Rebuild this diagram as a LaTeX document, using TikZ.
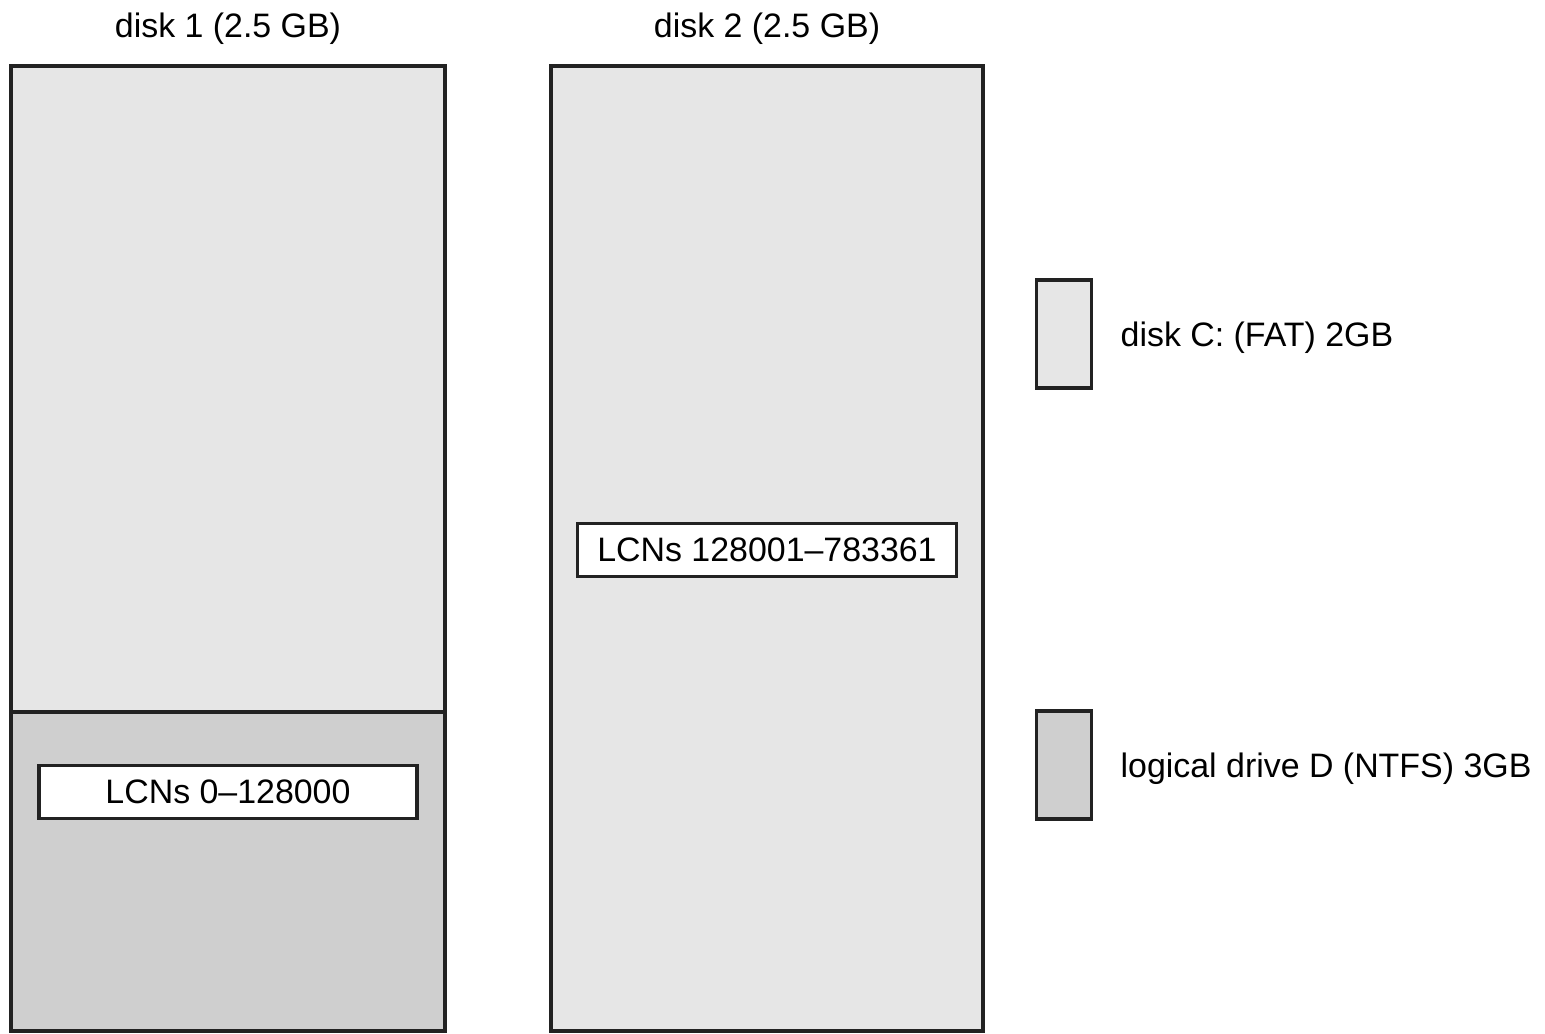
\documentclass[tikz,border=0pt]{standalone}
\usepackage{fontspec}
\setmainfont{Liberation Sans}
\usetikzlibrary{positioning}
\definecolor{fatgrey}{RGB}{230,230,230}
\definecolor{ntfsgrey}{RGB}{207,207,207}
\definecolor{edgegrey}{RGB}{34,34,34}

\begin{document}
\begin{tikzpicture}[x=0.02cm, y=-0.02cm, line width=1.8pt,
    font=\fontsize{19.3}{22}\selectfont,
    lcnbox/.style={draw=edgegrey, fill=white, inner sep=0pt,
                   minimum width=7.56cm, minimum height=1.06cm},
    legbox/.style={draw=edgegrey, inner sep=0pt,
                   minimum width=1.1cm, minimum height=2.16cm}]
  \useasboundingbox (0,0) rectangle (1545,1034);
  % disks
  \filldraw[draw=edgegrey, fill=fatgrey] (11,66) rectangle (445,1031);
  \filldraw[draw=edgegrey, fill=ntfsgrey] (11,712) rectangle (445,1031);
  \filldraw[draw=edgegrey, fill=fatgrey] (551,66) rectangle (983,1031);
  \node (disk1) at (228,29) {disk 1 (2.5 GB)};
  \node (disk2) at (767,29) {disk 2 (2.5 GB)};
  % cluster ranges
  \node[lcnbox] (lcn1) at (228,792) {LCNs 0--128000};
  \node[lcnbox, minimum width=7.58cm] (lcn2) at (767,550) {LCNs 128001--783361};
  % legend
  \foreach \y/\c/\n/\lbl in {334/fatgrey/fat/disk C: (FAT) 2GB,
                             765/ntfsgrey/ntfs/logical drive D (NTFS) 3GB} {
    \node[legbox, fill=\c] (\n box) at (1064,\y) {};
    \node[inner sep=0pt, right=0.52cm of \n box, yshift=-0.08cm] (\n text) {\lbl};
  }
\end{tikzpicture}
\end{document}
